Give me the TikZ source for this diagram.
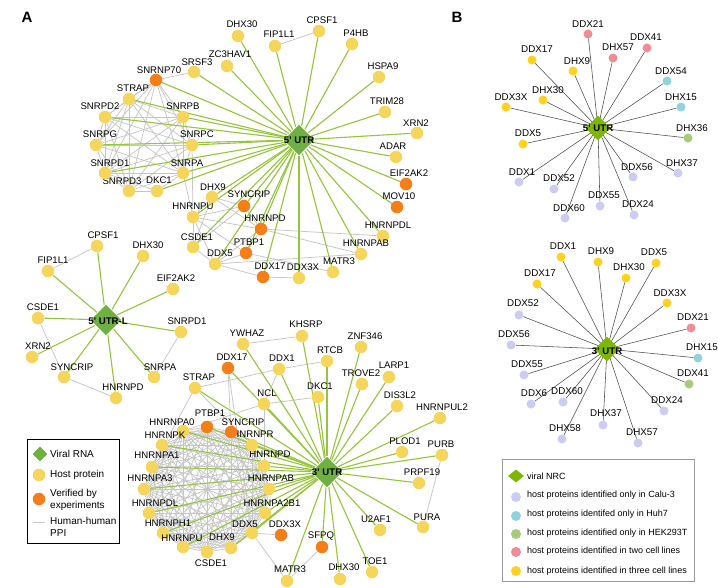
\documentclass[tikz,border=0pt]{standalone}
\usepackage{fontspec}
\setmainfont{Liberation Sans}
\usetikzlibrary{shapes.geometric}
\pgfdeclarelayer{bg}
\pgfsetlayers{bg,main}
\definecolor{yA}{HTML}{F6D55B}
\definecolor{oA}{HTML}{F57E16}
\definecolor{gE}{HTML}{95C53A}
\definecolor{gP}{HTML}{C6C6C6}
\definecolor{dA}{HTML}{6FB043}
\definecolor{dB}{HTML}{7CB800}
\definecolor{yB}{HTML}{FFD21F}
\definecolor{pB}{HTML}{F08C94}
\definecolor{cB}{HTML}{90D3DC}
\definecolor{gB}{HTML}{A6CC7A}
\definecolor{lvB}{HTML}{CBCBF3}
\definecolor{eB}{HTML}{4A4A4A}
\newcommand\hn[8]{\node[#4] (#1) at (#2,#3) {}; \node[#5] (#1-l) at (#6,#7) {#8};}
\begin{document}
\begin{tikzpicture}[x=1pt,y=-1pt,
  hA/.style={circle,fill=yA,minimum size=12.5pt,inner sep=0pt},
  vA/.style={circle,fill=oA,minimum size=12.5pt,inner sep=0pt},
  yBn/.style={circle,fill=yB,minimum size=9pt,inner sep=0pt},
  pBn/.style={circle,fill=pB,minimum size=9pt,inner sep=0pt},
  cBn/.style={circle,fill=cB,minimum size=9pt,inner sep=0pt},
  gBn/.style={circle,fill=gB,minimum size=9pt,inner sep=0pt},
  lBn/.style={circle,fill=lvB,minimum size=9pt,inner sep=0pt},
  lA/.style={font=\fontsize{9.6}{10}\selectfont,inner sep=0pt},
  lB/.style={font=\fontsize{9.8}{11}\selectfont,inner sep=0pt},
  diaA/.style={diamond,fill=dA,draw=white,line width=0.6pt,minimum size=32pt,inner sep=0pt},
  diaB/.style={diamond,fill=dB,minimum size=25pt,inner sep=0pt},
  dlbl/.style={font=\fontsize{9.6}{10}\selectfont\bfseries,inner sep=0pt},
  ge/.style={draw=gE,line width=1.1pt},
  pe/.style={draw=gP,line width=0.75pt},
  be/.style={draw=eB,line width=0.55pt},
  lg/.style={font=\fontsize{10}{11}\selectfont,inner sep=0pt,anchor=west},
  lgb/.style={font=\fontsize{9}{10}\selectfont,inner sep=0pt,anchor=west}]
\useasboundingbox (0,0) rectangle (718,587);
\node[font=\fontsize{15}{16}\selectfont\bfseries] (hdrA) at (27,17) {A};
\node[font=\fontsize{15}{16}\selectfont\bfseries] (hdrB) at (457,17) {B};
% ---------- Panel A : 5' UTR ----------
\node[diaA] (u5) at (299,140) {};
\hn{a5snrnp70}{156}{80}{vA}{lA}{159}{70}{SNRNP70}
\hn{a5srsf3}{194}{72}{hA}{lA}{197}{62}{SRSF3}
\hn{a5zc3hav1}{227}{66}{hA}{lA}{230}{54}{ZC3HAV1}
\hn{a5dhx30}{238}{36}{hA}{lA}{242}{24}{DHX30}
\hn{a5fip1l1}{275}{46}{hA}{lA}{279}{34}{FIP1L1}
\hn{a5cpsf1}{319}{31}{hA}{lA}{322}{20}{CPSF1}
\hn{a5p4hb}{352}{44}{hA}{lA}{356}{33}{P4HB}
\hn{a5hspa9}{379}{77}{hA}{lA}{383}{66}{HSPA9}
\hn{a5trim28}{385}{112}{hA}{lA}{387}{101}{TRIM28}
\hn{a5xrn2}{417}{133}{hA}{lA}{416}{123}{XRN2}
\hn{a5adar}{396}{157}{hA}{lA}{393}{146}{ADAR}
\hn{a5eif2ak2}{406}{184}{vA}{lA}{409}{173}{EIF2AK2}
\hn{a5mov10}{397}{207}{vA}{lA}{399}{196}{MOV10}
\hn{a5hnrnpdl}{383}{236}{hA}{lA}{388}{225}{HNRNPDL}
\hn{a5hnrnpab}{361}{254}{hA}{lA}{366}{243}{HNRNPAB}
\hn{a5matr3}{333}{272}{hA}{lA}{339}{261}{MATR3}
\hn{a5ddx3x}{299}{278}{hA}{lA}{303}{267}{DDX3X}
\hn{a5ddx17}{263}{277}{vA}{lA}{270}{266}{DDX17}
\hn{a5ptbp1}{246}{253}{vA}{lA}{249}{242}{PTBP1}
\hn{a5hnrnpd}{261}{229}{vA}{lA}{265}{218}{HNRNPD}
\hn{a5syncrip}{244}{206}{vA}{lA}{249}{194}{SYNCRIP}
\hn{a5ddx5}{215}{264}{hA}{lA}{220}{253}{DDX5}
\hn{a5csde1}{193}{247}{hA}{lA}{197}{237}{CSDE1}
\hn{a5hnrnpu}{193}{217}{hA}{lA}{193}{206}{HNRNPU}
\hn{a5dhx9}{212}{197}{hA}{lA}{213}{187}{DHX9}
\hn{a5dkc1}{157}{191}{hA}{lA}{159}{180}{DKC1}
\hn{a5snrpd3}{129}{191}{hA}{lA}{122}{181}{SNRPD3}
\hn{a5snrpa}{183}{173}{hA}{lA}{187}{163}{SNRPA}
\hn{a5snrpd1}{105}{173}{hA}{lA}{110}{163}{SNRPD1}
\hn{a5snrpc}{192}{145}{hA}{lA}{197}{134}{SNRPC}
\hn{a5snrpg}{96}{145}{hA}{lA}{100}{134}{SNRPG}
\hn{a5snrpb}{183}{117}{hA}{lA}{183}{106}{SNRPB}
\hn{a5snrpd2}{105}{117}{hA}{lA}{100}{106}{SNRPD2}
\hn{a5strap}{129}{99}{hA}{lA}{133}{88}{STRAP}
\node[dlbl] (u5-l) at (299,140) {5' UTR};
% ---------- Panel A : 5' UTR-L ----------
\node[diaA] (uL) at (106,320) {};
\hn{aLcpsf1}{97}{246}{hA}{lA}{103}{235}{CPSF1}
\hn{aLdhx30}{143}{256}{hA}{lA}{148}{245}{DHX30}
\hn{aLfip1l1}{48}{271}{hA}{lA}{53}{260}{FIP1L1}
\hn{aLeif2ak2}{173}{289}{hA}{lA}{176}{278}{EIF2AK2}
\hn{aLcsde1}{38}{318}{hA}{lA}{43}{307}{CSDE1}
\hn{aLsnrpd1}{181}{332}{hA}{lA}{187}{321}{SNRPD1}
\hn{aLxrn2}{32}{357}{hA}{lA}{38}{346}{XRN2}
\hn{aLsyncrip}{64}{377}{hA}{lA}{72}{367}{SYNCRIP}
\hn{aLsnrpa}{154}{377}{hA}{lA}{160}{367}{SNRPA}
\hn{aLhnrnpd}{116}{398}{hA}{lA}{123}{387}{HNRNPD}
\node[dlbl] (uL-l) at (108,321) {5' UTR-L};
% ---------- Panel A : 3' UTR ----------
\node[diaA] (u3) at (327,472) {};
\hn{a3ywhaz}{243}{344}{hA}{lA}{247}{333}{YWHAZ}
\hn{a3khsrp}{302}{336}{hA}{lA}{306}{324}{KHSRP}
\hn{a3ddx17}{228}{368}{vA}{lA}{232}{357}{DDX17}
\hn{a3ddx1}{279}{369}{hA}{lA}{282}{358}{DDX1}
\hn{a3rtcb}{327}{361}{hA}{lA}{330}{350}{RTCB}
\hn{a3znf346}{361}{347}{hA}{lA}{365}{336}{ZNF346}
\hn{a3trove2}{362}{384}{hA}{lA}{361}{373}{TROVE2}
\hn{a3larp1}{389}{377}{hA}{lA}{394}{365}{LARP1}
\hn{a3dis3l2}{397}{406}{hA}{lA}{400}{395}{DIS3L2}
\hn{a3hnrnpul2}{440}{418}{hA}{lA}{442}{407}{HNRNPUL2}
\hn{a3plod1}{402}{452}{hA}{lA}{405}{441}{PLOD1}
\hn{a3purb}{442}{455}{hA}{lA}{441}{444}{PURB}
\hn{a3prpf19}{419}{483}{hA}{lA}{422}{472}{PRPF19}
\hn{a3pura}{423}{527}{hA}{lA}{427}{517}{PURA}
\hn{a3u2af1}{380}{530}{hA}{lA}{376}{519}{U2AF1}
\hn{a3toe1}{372}{572}{hA}{lA}{375}{561}{TOE1}
\hn{a3dhx30}{340}{579}{hA}{lA}{344}{567}{DHX30}
\hn{a3sfpq}{322}{547}{vA}{lA}{321}{536}{SFPQ}
\hn{a3matr3}{287}{581}{hA}{lA}{290}{569}{MATR3}
\hn{a3ddx3x}{281}{535}{vA}{lA}{285}{524}{DDX3X}
\hn{a3hnrnpa2b1}{265}{513}{hA}{lA}{272}{503}{HNRNPA2B1}
\hn{a3hnrnpab}{269}{489}{hA}{lA}{271}{478}{HNRNPAB}
\hn{a3hnrnpd}{264}{466}{hA}{lA}{270}{454}{HNRNPD}
\hn{a3hnrnpr}{252}{445}{hA}{lA}{253}{434}{HNRNPR}
\hn{a3syncrip}{231}{432}{vA}{lA}{243}{422}{SYNCRIP}
\hn{a3ptbp1}{207}{427}{vA}{lA}{210}{413}{PTBP1}
\hn{a3hnrnpa0}{183}{431}{hA}{lA}{172}{422}{HNRNPA0}
\hn{a3hnrnpk}{162}{445}{hA}{lA}{165}{435}{HNRNPK}
\hn{a3hnrnpa1}{152}{467}{hA}{lA}{157}{455}{HNRNPA1}
\hn{a3hnrnpa3}{144}{489}{hA}{lA}{150}{478}{HNRNPA3}
\hn{a3hnrnpdl}{149}{513}{hA}{lA}{155}{503}{HNRNPDL}
\hn{a3hnrnph1}{163}{533}{hA}{lA}{168}{523}{HNRNPH1}
\hn{a3hnrnpu}{183}{547}{hA}{lA}{182}{538}{HNRNPU}
\hn{a3csde1}{207}{552}{hA}{lA}{211}{563}{CSDE1}
\hn{a3dhx9}{231}{548}{hA}{lA}{222}{537}{DHX9}
\hn{a3ddx5}{252}{533}{hA}{lA}{245}{524}{DDX5}
\hn{a3strap}{195}{388}{hA}{lA}{199}{377}{STRAP}
\hn{a3ncl}{264}{404}{hA}{lA}{267}{393}{NCL}
\hn{a3dkc1}{318}{397}{hA}{lA}{320}{386}{DKC1}
\node[dlbl] (u3-l) at (327,472) {3' UTR};
% ---------- Panel B : 5' UTR ----------
\node[diaB] (b5) at (598,128) {};
\hn{b5ddx21}{588}{34}{pBn}{lB}{588}{24}{DDX21}
\hn{b5ddx41}{647}{48}{pBn}{lB}{646}{37}{DDX41}
\hn{b5dhx57}{613}{58}{pBn}{lB}{618}{47}{DHX57}
\hn{b5ddx17}{532}{60}{yBn}{lB}{537}{49}{DDX17}
\hn{b5dhx9}{573}{71}{yBn}{lB}{577}{61}{DHX9}
\hn{b5ddx54}{667}{81}{cBn}{lB}{671}{71}{DDX54}
\hn{b5dhx15}{681}{107}{cBn}{lB}{681}{97}{DHX15}
\hn{b5dhx30}{543}{100}{yBn}{lB}{548}{90}{DHX30}
\hn{b5ddx3x}{506}{107}{yBn}{lB}{511}{97}{DDX3X}
\hn{b5dhx36}{688}{138}{gBn}{lB}{692}{128}{DHX36}
\hn{b5ddx5}{523}{144}{yBn}{lB}{528}{133}{DDX5}
\hn{b5dhx37}{678}{173}{lBn}{lB}{682}{163}{DHX37}
\hn{b5ddx56}{633}{177}{lBn}{lB}{637}{167}{DDX56}
\hn{b5ddx1}{519}{182}{lBn}{lB}{522}{172}{DDX1}
\hn{b5ddx52}{554}{189}{lBn}{lB}{559}{178}{DDX52}
\hn{b5ddx55}{600}{206}{lBn}{lB}{604}{195}{DDX55}
\hn{b5ddx24}{634}{215}{lBn}{lB}{638}{204}{DDX24}
\hn{b5ddx60}{565}{218}{lBn}{lB}{569}{208}{DDX60}
\node[dlbl] (b5-l) at (598,128) {5' UTR};
% ---------- Panel B : 3' UTR ----------
\node[diaB] (b3) at (607,349) {};
\hn{b3ddx1}{561}{257}{yBn}{lB}{563}{246}{DDX1}
\hn{b3dhx9}{598}{262}{yBn}{lB}{601}{251}{DHX9}
\hn{b3ddx5}{656}{263}{yBn}{lB}{654}{252}{DDX5}
\hn{b3dhx30}{626}{278}{yBn}{lB}{629}{267}{DHX30}
\hn{b3ddx17}{537}{284}{yBn}{lB}{540}{273}{DDX17}
\hn{b3ddx3x}{667}{303}{yBn}{lB}{670}{293}{DDX3X}
\hn{b3ddx52}{519}{315}{lBn}{lB}{523}{303}{DDX52}
\hn{b3ddx21}{691}{328}{pBn}{lB}{693}{317}{DDX21}
\hn{b3ddx56}{511}{345}{lBn}{lB}{514}{334}{DDX56}
\hn{b3dhx15}{698}{358}{cBn}{lB}{702}{347}{DHX15}
\hn{b3ddx55}{524}{375}{lBn}{lB}{527}{364}{DDX55}
\hn{b3ddx41}{689}{384}{gBn}{lB}{693}{373}{DDX41}
\hn{b3ddx6}{531}{404}{lBn}{lB}{534}{393}{DDX6}
\hn{b3ddx60}{563}{402}{lBn}{lB}{567}{391}{DDX60}
\hn{b3ddx24}{664}{411}{lBn}{lB}{667}{400}{DDX24}
\hn{b3dhx37}{603}{425}{lBn}{lB}{606}{413}{DHX37}
\hn{b3dhx58}{562}{439}{lBn}{lB}{565}{428}{DHX58}
\hn{b3dhx57}{638}{443}{lBn}{lB}{642}{432}{DHX57}
\node[dlbl] (b3-l) at (607,351) {3' UTR};
% ---------- Legend A ----------
\node[draw=black,line width=0.8pt,minimum width=92pt,minimum height=104pt,inner sep=0pt] (lgA) at (73,491) {};
\node[diamond,fill=dA,minimum size=15pt,inner sep=0pt] (lgAd) at (40,454) {};
\node[lg] (lgAd-t) at (50,454) {Viral RNA};
\node[hA] (lgAh) at (39,475) {};
\node[lg] (lgAh-t) at (50,475) {Host protein};
\node[vA] (lgAv) at (39,499) {};
\node[lg] (lgAv-t1) at (50,494) {Verified by};
\node[lg] (lgAv-t2) at (50,506) {experiments};
\coordinate (lgAp1) at (33,522);
\coordinate (lgAp2) at (45,522);
\draw[pe,line width=1pt] (lgAp1) -- (lgAp2);
\node[lg] (lgAp-t1) at (50,521) {Human-human};
\node[lg] (lgAp-t2) at (50,533) {PPI};
% ---------- Legend B ----------
\node[draw=gray!80,line width=0.6pt,minimum width=192pt,minimum height=122pt,inner sep=0pt] (lgB) at (598,520) {};
\node[diamond,fill=dB,minimum width=16pt,minimum height=13pt,inner sep=0pt] (lgBd) at (516,476) {};
\node[lgb] (lgBd-t) at (527,476) {viral NRC};
\node[lBn,minimum size=10pt] (lgB1) at (516,497) {};
\node[lgb] (lgB1-t) at (527,495) {host proteins identified only in Calu-3};
\node[cBn,minimum size=10pt] (lgB2) at (516,516) {};
\node[lgb] (lgB2-t) at (527,514) {host proteins identifed only in Huh7};
\node[gBn,minimum size=10pt] (lgB3) at (516,534) {};
\node[lgb] (lgB3-t) at (527,533) {host proteins identified only in HEK293T};
\node[pBn,minimum size=10pt] (lgB4) at (516,552) {};
\node[lgb] (lgB4-t) at (527,551) {host proteins identified in two cell lines};
\node[yBn,minimum size=10pt] (lgB5) at (516,571) {};
\node[lgb] (lgB5-t) at (527,571) {host proteins identified in three cell lines};
% ---------- Edges ----------
\begin{pgfonlayer}{bg}
% 5' UTR gray PPI
\def\cliqueA{a5snrnp70,a5strap,a5snrpd2,a5snrpb,a5snrpg,a5snrpc,a5snrpd1,a5snrpa,a5snrpd3}
\foreach \a [count=\i] in \cliqueA {\foreach \b [count=\j] in \cliqueA {\ifnum\j>\i \draw[pe] (\a) -- (\b);\fi}}
\foreach \a/\b in {a5srsf3/a5snrnp70,a5dkc1/a5snrpd3,a5dkc1/a5snrpa,a5dkc1/a5snrpd1,a5hnrnpu/a5snrpa,a5hnrnpu/a5snrpc,
  a5hnrnpu/a5dhx9,a5hnrnpu/a5csde1,a5hnrnpu/a5syncrip,a5hnrnpu/a5hnrnpd,a5hnrnpu/a5ptbp1,a5hnrnpu/a5ddx5,
  a5csde1/a5ddx5,a5csde1/a5syncrip,a5dhx9/a5syncrip,a5dhx9/a5hnrnpd,a5ddx5/a5ptbp1,a5ddx5/a5hnrnpd,a5ddx5/a5ddx17,
  a5ddx5/a5hnrnpab,a5hnrnpd/a5hnrnpab,a5hnrnpd/a5hnrnpdl,a5ptbp1/a5matr3,a5ddx17/a5ddx3x,a5fip1l1/a5cpsf1,
  a5syncrip/a5hnrnpd,a5ptbp1/a5hnrnpd,a5dhx9/a5csde1}
  {\draw[pe] (\a) -- (\b);}
% 5' UTR green
\foreach \n in {a5snrnp70,a5srsf3,a5zc3hav1,a5dhx30,a5fip1l1,a5cpsf1,a5p4hb,a5hspa9,a5trim28,a5xrn2,a5adar,a5eif2ak2,
  a5mov10,a5hnrnpdl,a5hnrnpab,a5matr3,a5ddx3x,a5ddx17,a5ptbp1,a5hnrnpd,a5syncrip,a5ddx5,a5csde1,a5hnrnpu,a5dhx9,
  a5dkc1,a5snrpa,a5snrpd1,a5snrpc,a5snrpg,a5snrpb,a5snrpd2,a5strap}
  {\draw[ge] (u5) -- (\n);}
% 5' UTR-L
\foreach \a/\b in {aLfip1l1/aLcpsf1,aLcsde1/aLsyncrip,aLsnrpd1/aLsnrpa,aLsyncrip/aLhnrnpd}
  {\draw[pe] (\a) -- (\b);}
\foreach \n in {aLcpsf1,aLdhx30,aLfip1l1,aLeif2ak2,aLcsde1,aLsnrpd1,aLxrn2,aLsyncrip,aLsnrpa,aLhnrnpd}
  {\draw[ge] (uL) -- (\n);}
% 3' UTR gray PPI
\def\cliqueB{a3hnrnpa0,a3hnrnpk,a3hnrnpa1,a3hnrnpa3,a3hnrnpdl,a3hnrnph1,a3hnrnpu,a3csde1,a3dhx9,a3ddx5,a3hnrnpa2b1,a3hnrnpab,a3hnrnpd,a3hnrnpr,a3syncrip,a3ptbp1}
\foreach \a [count=\i] in \cliqueB {\foreach \b [count=\j] in \cliqueB {\ifnum\j>\i \draw[pe] (\a) -- (\b);\fi}}
\foreach \a/\b in {a3ywhaz/a3khsrp,a3ddx1/a3rtcb,a3ncl/a3dkc1,a3ncl/a3ddx1,a3ncl/a3hnrnpa0,a3ncl/a3hnrnpd,
  a3strap/a3hnrnpr,a3ddx17/a3syncrip,a3ddx17/a3ddx5,a3ddx5/a3ddx3x,a3ddx5/a3matr3,a3sfpq/a3matr3,a3purb/a3pura,
  a3strap/a3hnrnpa1,a3ddx1/a3strap}
  {\draw[pe] (\a) -- (\b);}
% 3' UTR green
\foreach \n in {a3ywhaz,a3khsrp,a3ddx17,a3ddx1,a3rtcb,a3znf346,a3trove2,a3larp1,a3dis3l2,a3hnrnpul2,a3plod1,a3purb,
  a3prpf19,a3pura,a3u2af1,a3toe1,a3dhx30,a3sfpq,a3matr3,a3ptbp1,a3syncrip,a3hnrnpr,a3hnrnpd,a3hnrnpab,a3hnrnpa2b1,
  a3ddx5,a3dhx9,a3hnrnpu,a3hnrnph1,a3hnrnpdl,a3hnrnpa3,a3hnrnpa1,a3hnrnpk,a3hnrnpa0,a3strap,a3ncl,a3dkc1}
  {\draw[ge] (u3) -- (\n);}
% Panel B
\foreach \n in {b5ddx21,b5ddx41,b5dhx57,b5ddx17,b5dhx9,b5ddx54,b5dhx15,b5dhx30,b5ddx3x,b5dhx36,b5ddx5,b5dhx37,
  b5ddx56,b5ddx1,b5ddx52,b5ddx55,b5ddx24,b5ddx60}
  {\draw[be] (b5.center) -- (\n);}
\foreach \n in {b3ddx1,b3dhx9,b3ddx5,b3dhx30,b3ddx17,b3ddx3x,b3ddx52,b3ddx21,b3ddx56,b3dhx15,b3ddx55,b3ddx41,
  b3ddx6,b3ddx60,b3ddx24,b3dhx37,b3dhx58,b3dhx57}
  {\draw[be] (b3.center) -- (\n);}
\end{pgfonlayer}
\end{tikzpicture}
\end{document}
